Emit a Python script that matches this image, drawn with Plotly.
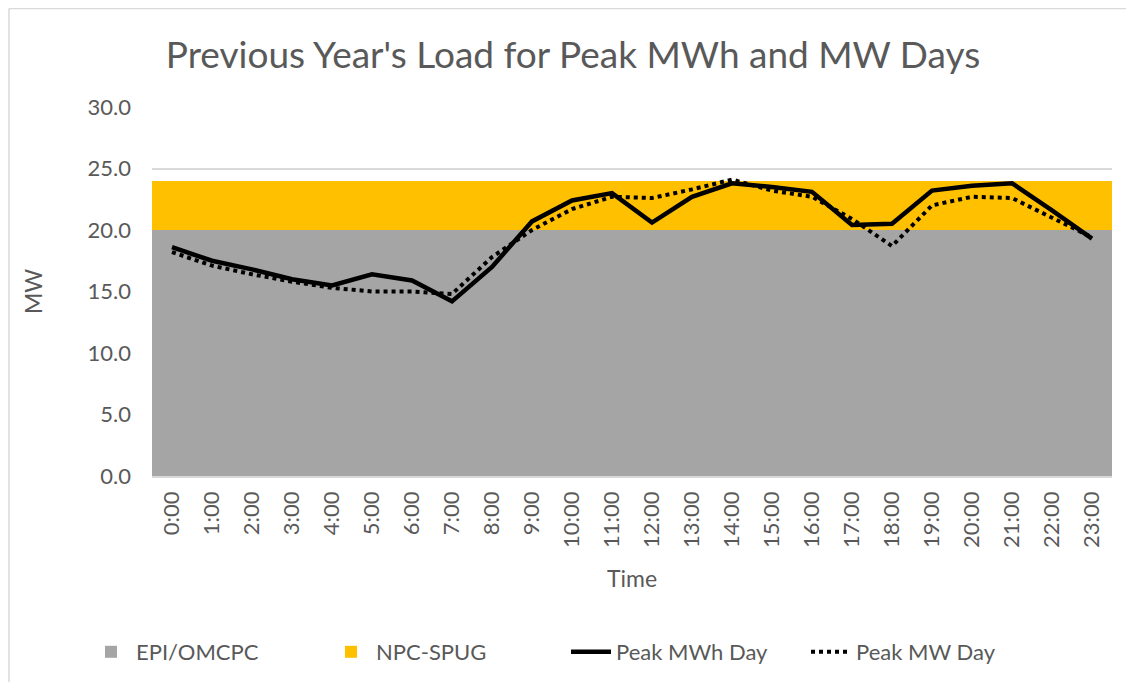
import plotly.graph_objects as go

hours = [f"{h}:00" for h in range(24)]
epi_omcpc = [20.0] * 24
npc_spug = [4.0] * 24
peak_mwh_day = [18.6, 17.5, 16.8, 16.0, 15.5, 16.4, 15.9, 14.2, 17.0, 20.7, 22.4, 23.0,
                20.6, 22.7, 23.8, 23.5, 23.1, 20.4, 20.5, 23.2, 23.6, 23.8, 21.6, 19.3]
peak_mw_day = [18.2, 17.1, 16.4, 15.8, 15.3, 15.0, 15.0, 14.8, 17.8, 20.0, 21.7, 22.7,
               22.6, 23.3, 24.1, 23.2, 22.7, 20.9, 18.7, 22.0, 22.7, 22.6, 21.0, 19.4]

TXT = "#595959"
FONT = "Lato"

fig = go.Figure()
fig.add_trace(go.Bar(x=hours, y=epi_omcpc, name="EPI/OMCPC", marker=dict(color="#A5A5A5", line=dict(width=0))))
fig.add_trace(go.Bar(x=hours, y=npc_spug, name="NPC-SPUG", marker=dict(color="#FFC000", line=dict(width=0))))
fig.add_trace(go.Scatter(x=hours, y=peak_mwh_day, name="Peak MWh Day", mode="lines",
                         line=dict(color="black", width=4.5)))
fig.add_trace(go.Scatter(x=hours, y=peak_mw_day, name="Peak MW Day", mode="lines",
                         line=dict(color="black", width=4, dash="dot")))

O = 8  # page offset of the figure inside the browser
W, H = 1134, 682
L, R, T, B = 152 - O, 1112 - O, 107 - O, 476 - O
pw, ph = R - L, B - T

def px(x):
    return (x - O - L) / pw

def py(y):
    return (B - (y - O)) / ph

fig.update_layout(
    width=W, height=H,
    margin=dict(l=L, r=W - R, t=T, b=H - B),
    barmode="stack", bargap=0,
    plot_bgcolor="white", paper_bgcolor="white",
    font=dict(family=FONT, color=TXT, size=22),
    title=dict(text="Previous Year's Load for Peak MWh and MW Days",
               font=dict(family=FONT, size=37, color=TXT),
               x=(573 - O) / W, xanchor="center", xref="container",
               y=1 - (55 - O) / H, yanchor="middle", yref="container"),
    legend=dict(orientation="h", xref="container", yref="container",
                x=(86 - O) / W, xanchor="left", y=1 - (652 - O) / H, yanchor="middle",
                font=dict(size=22, color=TXT), traceorder="normal",
                entrywidth=185, entrywidthmode="pixels", itemwidth=40),
    xaxis=dict(type="category", range=[-0.5, 23.5], tickangle=-90,
               showline=True, linecolor="#D9D9D9", linewidth=1.5, ticks="",
               tickfont=dict(size=22, color=TXT), ticklabelstandoff=5,
               title=dict(text="Time", font=dict(size=23, color=TXT), standoff=24)),
    yaxis=dict(range=[0, 30], dtick=5, tickformat=".1f", showgrid=True,
               gridcolor="#D9D9D9", gridwidth=1.5, zeroline=False,
               tickfont=dict(size=22, color=TXT), ticks="", ticklabelstandoff=20,
               title=dict(text="MW", font=dict(size=23, color=TXT), standoff=38)),
    shapes=[
        dict(type="line", xref="paper", yref="paper", x0=px(O + 1), x1=px(O + 1), y0=py(8.5), y1=py(H + O),
             line=dict(color="#D9D9D9", width=1.5)),
        dict(type="line", xref="paper", yref="paper", x0=px(O + 1), x1=px(W + O), y0=py(8.5), y1=py(8.5),
             line=dict(color="#D9D9D9", width=1.5)),
    ],
)

fig.write_html("out.html")
